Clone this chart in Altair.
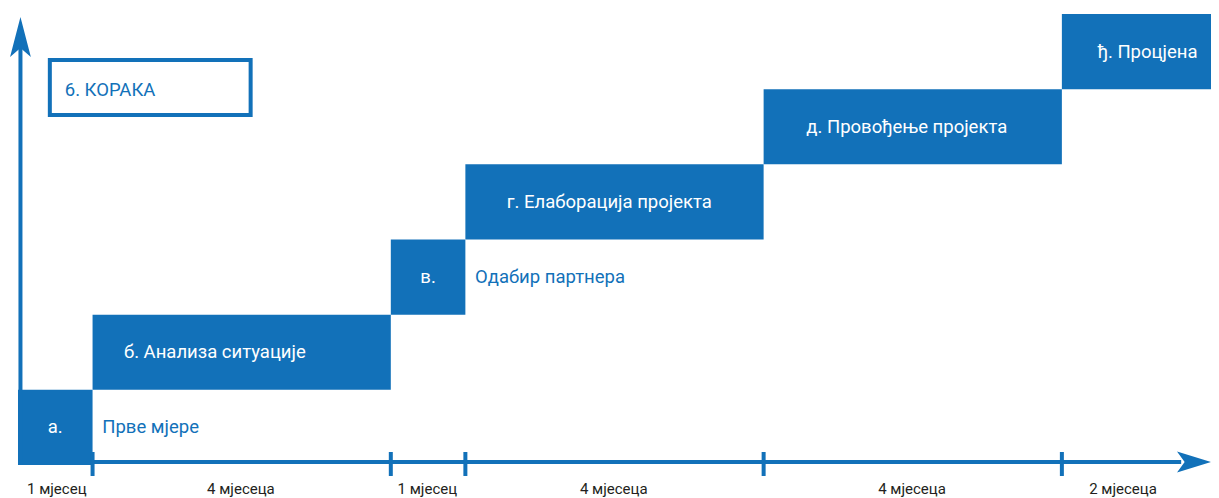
import altair as alt
import pandas as pd
import numpy as np

# ---- data ----
step_labels = ["а.", "б. Анализа ситуације", "в.", "г. Елаборација пројекта",
               "д. Провођење пројекта", "ђ. Процјена"]
durations = [1, 4, 1, 4, 4, 2]
label_x = [0.5, 2.64, 5.5, 7.93, 11.92, 15.15]
side_labels = ["Прве мјере", "", "Одабир партнера", "", "", ""]
duration_labels = ["1 мјесец", "4 мјесеца", "1 мјесец", "4 мјесеца", "4 мјесеца", "2 мјесеца"]
duration_label_x = [0.52, 2.99, 5.49, 7.99, 11.99, 14.82]
title_text = "6. КОРАКА"

BLUE = "#1271b9"
DARK = "#231f20"
FONT = "Roboto"
FS = 18.5

W, H = 1203, 490
XDOM = [-0.1341, 16.0]
YDOM = [-0.439, 6.0795]

starts = np.concatenate([[0], np.cumsum(durations)[:-1]])
ends = np.cumsum(durations)
levels = np.arange(len(durations))

steps = pd.DataFrame({
    "start": starts, "end": ends, "lo": levels, "hi": levels + 1,
    "label": step_labels, "lx": label_x, "ly": levels + 0.5,
    "side": side_labels, "sx": ends + 0.13,
    "dur": duration_labels, "dx": duration_label_x,
})

xs = alt.Scale(domain=XDOM, nice=False, zero=False)
ys = alt.Scale(domain=YDOM, nice=False, zero=False)

def X(f, **k):
    return alt.X(f, scale=xs, axis=None, **k)

def Y(f, **k):
    return alt.Y(f, scale=ys, axis=None, **k)

base = alt.Chart(steps)

boxes = base.mark_rect(color=BLUE).encode(
    x=X("start:Q"), x2="end:Q", y=Y("lo:Q"), y2="hi:Q")

box_text = base.mark_text(color="white", font=FONT, fontSize=FS, align="center",
                          baseline="middle").encode(
    x=X("lx:Q"), y=Y("ly:Q"), text="label:N")

side_text = base.transform_filter(alt.datum.side != "").mark_text(
    color=BLUE, font=FONT, fontSize=FS, align="left", baseline="middle").encode(
    x=X("sx:Q"), y=Y("ly:Q"), text="side:N")

dur_text = base.mark_text(color=DARK, font=FONT, fontSize=15, align="center",
                          baseline="middle").encode(
    x=X("dx:Q"), y=alt.Y("yy:Q", scale=ys, axis=None), text="dur:N"
).transform_calculate(yy="-0.319")

# axes (decorative, in data units)
haxis = alt.Chart(pd.DataFrame({"x0": [0.0], "x1": [15.6], "y": [0.04]})).mark_rule(
    color=BLUE, strokeWidth=4).encode(x=X("x0:Q"), x2="x1:Q", y=Y("y:Q"))
vaxis = alt.Chart(pd.DataFrame({"x": [0.033], "y0": [0.0], "y1": [5.6]})).mark_rule(
    color=BLUE, strokeWidth=4).encode(x=X("x:Q"), y=Y("y0:Q"), y2="y1:Q")
ticks = alt.Chart(pd.DataFrame({"x": list(ends[:-1]), "y0": -0.146, "y1": 0.173})).mark_rule(
    color=BLUE, strokeWidth=4).encode(x=X("x:Q"), y=Y("y0:Q"), y2="y1:Q")

harrow = alt.Chart(pd.DataFrame({"x": [15.772], "y": [0.04]})).mark_point(
    shape="M1,0L-1,-0.62L-0.55,0L-1,0.62Z", size=1156, filled=True, opacity=1,
    color=BLUE, strokeWidth=0).encode(x=X("x:Q"), y=Y("y:Q"))
varrow = alt.Chart(pd.DataFrame({"x": [0.033], "y": [5.694]})).mark_point(
    shape="M0,-1L0.52,1L0,0.55L-0.52,1Z", size=1600, filled=True, opacity=1,
    color=BLUE, strokeWidth=0).encode(x=X("x:Q"), y=Y("y:Q"))

title_box = alt.Chart(pd.DataFrame({"x0": [0.427], "x1": [3.12], "y0": [4.656], "y1": [5.388]})).mark_rect(
    fill="white", stroke=BLUE, strokeWidth=4).encode(
    x=X("x0:Q"), x2="x1:Q", y=Y("y0:Q"), y2="y1:Q")
title_txt = alt.Chart(pd.DataFrame({"x": [0.627], "y": [4.99], "t": [title_text]})).mark_text(
    color=BLUE, font=FONT, fontSize=FS, align="left", baseline="middle").encode(
    x=X("x:Q"), y=Y("y:Q"), text="t:N")

chart = alt.layer(
    boxes, haxis, vaxis, ticks, harrow, varrow, box_text, side_text, dur_text,
    title_box, title_txt
).properties(
    width=W, height=H, padding=0,
    autosize=alt.AutoSizeParams(type="none")
).configure_view(stroke=None)

chart.save("out.html", embed_options={"renderer": "svg", "actions": False})
